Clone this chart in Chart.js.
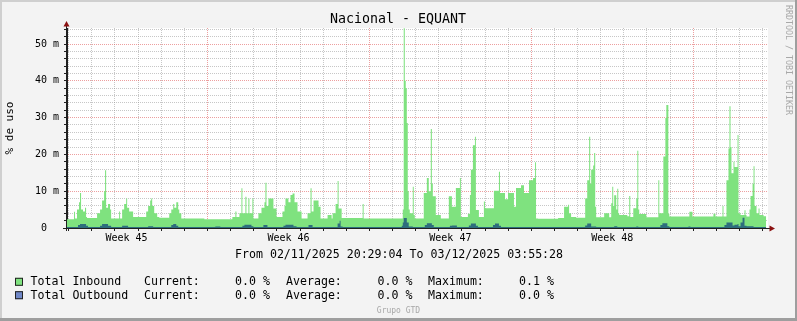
<!DOCTYPE html>
<html>
<head>
<meta charset="utf-8">
<script src="https://cdn.jsdelivr.net/npm/chart.js@4/dist/chart.umd.min.js"></script>
<style>
html,body{margin:0;padding:0;background:#f3f3f3;}
canvas{display:block;}
</style>
</head>
<body>
<canvas id="c" width="797" height="321"></canvas>
<script>
// ---- data (hours since start, value in milli-%) ----
const chartTitle = 'Nacional - EQUANT';
const yAxisTitle = '% de uso';
const rangeText = 'From 02/11/2025 20:29:04 To 03/12/2025 03:55:28';
const totalHours = 727.4;
const firstMidnight = 1.8;
const weekLabels = ['Week 45', 'Week 46', 'Week 47', 'Week 48'];
const weekStartDays = [6, 13, 20, 27];     // day index of week boundaries (major grid)
const weekCenterDays = [2.5, 9.5, 16.5, 23.5];

const inboundSeries = [
 [0,2.4],[7.3,4.4],[8.3,2.6],[10.4,5],[12.5,7],[13.5,9.5],[14.6,5],[16.6,4.5],[18.7,5.5],[19.8,3],[20.8,2.7],
 [31.2,4],[34.3,5],[36.4,7.5],[38.5,10],[39.5,15.7],[40.6,5.5],[42.6,6.5],[44.7,5],[45.8,2.6],[54.1,4.5],[55.1,2.6],
 [57.2,5],[59.3,6.5],[61.4,8],[62.4,5.5],[64.5,4.5],[68.6,3],[82.2,4.5],[84.2,6],[86.3,7.5],[87.4,8],[88.4,6],
 [90.5,4],[93.6,3],[95.7,2.8],[106.1,4],[108.2,5],[110.2,6.5],[111.3,5.5],[113.4,7],[115.4,5],[116.5,4],[118.6,2.6],
 [142.5,2.4],[171.6,3],[174.7,4.5],[175.8,3],[178.9,4],[181,10.8],[182,4],[185.1,8.5],[186.2,4],[188.2,8],[189.3,4],
 [192.4,8],[193.4,2.6],[198.6,4],[201.8,5.5],[204.9,7],[205.9,12.3],[207,6],[209,8],[214.2,5.3],[217.4,3],
 [223.6,4.5],[225.7,6],[226.7,8],[229.8,7],[231.9,9],[234,9.4],[236.1,7],[239.2,4.5],[243.4,2.6],[249.6,4],
 [252.7,10.8],[253.8,4.5],[255.8,7.5],[261,5.8],[263.1,2.6],[270.4,3.5],[274.6,2.6],[275.6,4],[278.7,6.5],
 [280.8,12.8],[281.8,5.3],[285,2.7],[306.8,6.5],[307.8,2.6],[348.4,5],[349.4,54.3],[350.5,40],[351.5,38],
 [352.6,28.5],[353.6,10],[354.6,5],[355.7,4],[358.8,11.2],[359.8,3.5],[360.9,2.6],[370.2,9.5],[373.4,13.6],
 [375.4,10],[377.5,26.9],[378.6,12],[379.6,8.6],[382.7,3.5],[387.9,2.6],[396.2,8.6],[399.4,5.8],[403.5,10.9],
 [407.7,13.6],[408.7,3],[416,3.9],[418.1,9],[419.1,15.8],[421.2,22.5],[423.3,24.8],[424.3,4.9],[427.4,3],
 [432.6,7.2],[433.7,5.4],[443,10.1],[448.2,15.3],[449.3,9.5],[454.5,7.8],[457.6,9.5],[463.8,5.8],[465.9,10.9],
 [471.1,11.6],[474.2,9.5],[479.4,13],[483.6,13.6],[485.7,17.9],[486.7,2.6],[488.8,2.5],[509.6,2.7],[515.8,5.8],
 [520,6.3],[521,4],[523.1,3],[528.3,2.8],[537.7,8],[539.8,13],[541.8,24.8],[542.9,12],[543.9,15.8],[546,17],
 [547,20.4],[548.1,5.8],[549.1,2.9],[557.4,4],[562.6,2.9],[564.7,6.7],[565.8,11.2],[566.8,6],[567.8,8.9],
 [569.9,5],[571,10.7],[572,4],[573,3.5],[581.4,3.2],[583.4,8.7],[584.5,3],[587.6,5.4],[590.7,8],[591.8,21],
 [592.8,5],[593.8,3.8],[601.1,2.9],[613.6,13],[614.6,4],[618.8,19.4],[620.9,29.9],[621.9,33.4],[624,3.9],
 [625,3.1],[645.8,4.4],[649,3.1],[670.8,3.9],[672.9,3.1],[680.2,6],[681.2,3.1],[684.3,13],[686.4,21.6],
 [687.4,33.1],[688.5,22],[689.5,14.9],[691.6,18],[692.6,16.6],[695.8,25.3],[696.8,4],[698.9,3.5],[703,4.8],
 [704.1,3.5],[705.1,3.1],[708.2,5],[709.3,8.7],[711.4,12],[712.4,16.8],[713.4,6],[715.5,4],[717.6,5.3],
 [718.6,3.5],[722.8,3.2],[725.5,3.2]
];

const outboundSeries = [
 [0,0.3],[11.4,0.8],[13.5,1.1],[19.8,0.6],[21.8,0.3],[34.3,0.6],[36.4,1.1],[42.6,0.6],[45.8,0.3],[57.2,0.6],
 [63.4,0.3],[84.2,0.5],[89.4,0.3],[108.2,0.8],[110.2,1.1],[113.4,0.6],[115.4,0.3],[153.9,0.4],[159.1,0.3],
 [182,0.6],[184.1,0.9],[191.4,0.5],[193.4,0.3],[203.8,0.8],[208,0.3],[224.6,0.6],[226.7,0.9],[235,0.5],
 [238.2,0.3],[250.6,0.8],[254.8,0.3],[280.8,1.2],[282.9,2.0],[283.9,0.4],[286,0.3],[347.4,0.6],[348.4,1.5],
 [349.4,2.7],[352.6,1.5],[354.6,0.4],[358.8,0.3],[371.3,0.8],[373.4,1.3],[378.6,0.8],[380.6,0.3],[397.3,0.6],
 [399.4,0.7],[404.6,0.3],[417,0.7],[419.1,1.2],[424.3,0.6],[426.4,0.3],[442,0.8],[444.1,1.2],[448.2,0.6],
 [450.3,0.3],[537.7,0.7],[539.8,1.2],[543.9,0.4],[549.1,0.3],[567.8,0.5],[571,0.3],[590.7,0.4],[592.8,0.3],
 [615.7,0.8],[617.8,1.3],[623,0.5],[625,0.3],[644.8,0.4],[646.9,0.3],[682.2,0.8],[684.3,1.5],[690.6,0.7],
 [692.6,0.9],[695.8,1.1],[696.8,0.5],[698.9,1.5],[701,2.8],[703,0.6],[705.1,0.5],[712.4,0.3],[725.5,0.3]
];

const seriesNames = ['Total Inbound', 'Total Outbound'];
const statCurrent = ['0.0 %', '0.0 %'];
const statAverage = ['0.0 %', '0.0 %'];
const statMaximum = ['0.1 %', '0.0 %'];
const yTickValues = [0,2,4,6,8,10,12,14,16,18,20,22,24,26,28,30,32,34,36,38,40,42,44,46,48,50,52,54];
const yMax = 54.35;

// ---- styling ----
const FONT = '"DejaVu Sans Mono", monospace';
const inboundFill = '#7fe27f';
const outboundFill = '#2e6e7d';
const legendColors = ['#7fe27f', '#7088c8'];
const minorGrid = 'rgba(143,143,143,0.5)';
const majorGrid = 'rgba(222,80,80,0.55)';

const dayTicks = [];
for (let k = 0; firstMidnight + 24 * k < totalHours; k++) dayTicks.push(firstMidnight + 24 * k);
const majorTicks = weekStartDays.map(d => firstMidnight + 24 * d);
const weekCenters = weekCenterDays.map(d => firstMidnight + 24 * d);
const toXY = arr => arr.map(p => ({x: p[0], y: p[1]}));

const rrdPlugin = {
  id: 'rrd',
  beforeDraw(chart) {
    const {ctx, width, height, chartArea: a} = chart;
    ctx.save();
    ctx.fillStyle = '#f3f3f3'; ctx.fillRect(0, 0, width, height);
    ctx.fillStyle = '#cfcfcf'; ctx.fillRect(0, 0, width, 2); ctx.fillRect(0, 0, 2, height);
    ctx.fillStyle = '#9e9e9e'; ctx.fillRect(0, height - 3, width, 3); ctx.fillRect(width - 2, 0, 2, height);
    ctx.fillStyle = '#ffffff'; ctx.fillRect(a.left, a.top, a.right - a.left, a.bottom - a.top);
    ctx.restore();
  },
  afterDatasetsDraw(chart) {
    const {ctx, chartArea: a} = chart;
    ctx.save();
    ctx.strokeStyle = '#202020'; ctx.lineWidth = 1;
    ctx.beginPath();
    ctx.moveTo(a.left - 0.5, a.bottom + 3); ctx.lineTo(a.left - 0.5, a.top - 4);
    ctx.moveTo(a.left - 4, a.bottom + 0.5); ctx.lineTo(a.right + 2, a.bottom + 0.5);
    ctx.stroke();
    ctx.fillStyle = '#8a1010';
    ctx.beginPath();
    ctx.moveTo(a.left - 0.5, a.top - 7); ctx.lineTo(a.left - 3.5, a.top - 1.5); ctx.lineTo(a.left + 2.5, a.top - 1.5); ctx.closePath();
    ctx.fill();
    ctx.beginPath();
    ctx.moveTo(a.right + 7, a.bottom + 0.5); ctx.lineTo(a.right + 1.5, a.bottom - 2.5); ctx.lineTo(a.right + 1.5, a.bottom + 3.5); ctx.closePath();
    ctx.fill();
    ctx.restore();
  },
  afterDraw(chart) {
    const {ctx} = chart;
    ctx.save();
    ctx.fillStyle = '#000';
    ctx.textBaseline = 'middle';
    ctx.textAlign = 'center';
    ctx.font = '13.3px ' + FONT;
    ctx.fillText(chartTitle, 398, 20);
    ctx.textAlign = 'left';
    ctx.font = '11.6px ' + FONT;
    ctx.fillText(rangeText, 235, 254.5);
    const rowsY = [282.3, 295.7];
    const cols = [144, 235, 286, 377.5, 428, 519];
    seriesNames.forEach((name, i) => {
      const y = rowsY[i];
      ctx.fillStyle = legendColors[i];
      ctx.fillRect(15, y - 4.5, 8, 8);
      ctx.strokeStyle = '#222'; ctx.lineWidth = 1;
      ctx.strokeRect(15.5, y - 4, 7, 7);
      ctx.fillStyle = '#000';
      ctx.fillText(name, 30.5, y);
      ctx.fillText('Current:', cols[0], y);
      ctx.fillText(statCurrent[i], cols[1], y);
      ctx.fillText('Average:', cols[2], y);
      ctx.fillText(statAverage[i], cols[3], y);
      ctx.fillText('Maximum:', cols[4], y);
      ctx.fillText(statMaximum[i], cols[5], y);
    });
    ctx.fillStyle = '#a8a8a8';
    ctx.textAlign = 'center';
    ctx.font = '8px ' + FONT;
    ctx.fillText('Grupo GTD', 398.5, 310.5);
    ctx.translate(788.5, 5);
    ctx.rotate(Math.PI / 2);
    ctx.textAlign = 'left';
    ctx.font = '8.3px ' + FONT;
    ctx.fillText('RRDTOOL / TOBI OETIKER', 0, 0);
    ctx.restore();
  }
};

new Chart(document.getElementById('c'), {
  type: 'line',
  data: {
    datasets: [
      { label: seriesNames[1], data: toXY(outboundSeries), order: 1, stepped: 'before',
        fill: 'origin', backgroundColor: outboundFill, borderWidth: 0, pointRadius: 0 },
      { label: seriesNames[0], data: toXY(inboundSeries), order: 2, stepped: 'before',
        fill: 'origin', backgroundColor: inboundFill, borderWidth: 0, pointRadius: 0 }
    ]
  },
  options: {
    responsive: false, animation: false, devicePixelRatio: 1,
    layout: { padding: { left: 0, top: 28, right: 29, bottom: 68 } },
    plugins: { legend: { display: false }, tooltip: { enabled: false }, title: { display: false } },
    scales: {
      x: {
        type: 'linear', min: 0, max: totalHours,
        afterBuildTicks: s => {
          s.ticks = [...dayTicks, ...weekCenters].sort((p, q) => p - q).map(v => ({ value: v }));
        },
        afterFit: s => { s.height = 25; },
        ticks: {
          autoSkip: false, maxRotation: 0, minRotation: 0, padding: 1, color: '#000',
          font: { family: 'DejaVu Sans Mono', size: 10 },
          callback: v => { const i = weekCenters.indexOf(v); return i >= 0 ? weekLabels[i] : ''; }
        },
        grid: {
          lineWidth: 1, tickLength: 3,
          color: c => majorTicks.includes(c.tick.value) ? majorGrid : (weekCenters.includes(c.tick.value) ? 'rgba(0,0,0,0)' : minorGrid),
          tickColor: c => weekCenters.includes(c.tick.value) ? 'rgba(0,0,0,0)' : '#202020'
        },
        border: { display: true, color: '#202020', dash: [1, 1] }
      },
      y: {
        type: 'linear', min: 0, max: yMax,
        afterBuildTicks: s => { s.ticks = yTickValues.map(v => ({ value: v })); },
        afterFit: s => { s.width = 67; },
        ticks: {
          autoSkip: false, padding: 5, color: '#000',
          font: { family: 'DejaVu Sans Mono', size: 10 },
          callback: v => v % 10 === 0 ? (v === 0 ? '0  ' : v + ' m') : ''
        },
        grid: {
          lineWidth: 1, tickLength: 3,
          color: c => (c.tick.value % 10 === 0 && c.tick.value > 0) ? majorGrid : minorGrid,
          tickColor: '#202020'
        },
        border: { display: true, color: '#202020', dash: [1, 1] },
        title: { display: true, text: yAxisTitle, color: '#000',
          font: { family: 'DejaVu Sans Mono', size: 11 }, padding: { top: 4, bottom: 0 } }
      }
    }
  },
  plugins: [rrdPlugin]
});
</script>
</body>
</html>
